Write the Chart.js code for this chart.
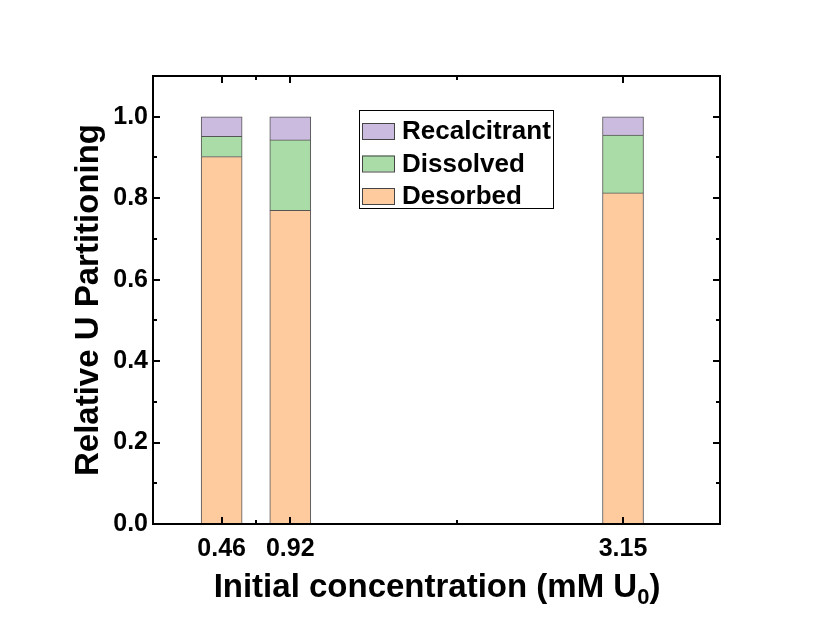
<!DOCTYPE html>
<html>
<head>
<meta charset="utf-8">
<script src="https://cdn.jsdelivr.net/npm/chart.js@4.4.0/dist/chart.umd.min.js"></script>
<style>
  html, body { margin: 0; padding: 0; background: #fff; }
  #wrap { width: 827px; height: 623px; }
</style>
</head>
<body>
<div id="wrap"><canvas id="partitionChart" width="827" height="623"></canvas></div>
<script>
// ## DATA ##
const concentrations = [0.46, 0.92, 3.15];
const desorbed = [0.902, 0.77, 0.813];
const dissolved = [0.05, 0.173, 0.142];
const recalcitrant = [0.048, 0.057, 0.045];
const xTicks = [0.46, 0.92, 3.15];
const yTicks = [0, 0.2, 0.4, 0.6, 0.8, 1.0];

const FONT = "'Liberation Sans', Arial, sans-serif";

function toPoints(values) {
  return values.map((v, i) => ({ x: concentrations[i], y: v }));
}

// frame, inward ticks, legend and axis titles
const decorPlugin = {
  id: "decor",
  afterDraw(chart) {
    const ctx = chart.ctx;
    const area = chart.chartArea;
    const xs = chart.scales.x;
    const ys = chart.scales.y;
    ctx.save();
    ctx.strokeStyle = "#000";
    ctx.lineWidth = 2;
    ctx.strokeRect(area.left, area.top, area.right - area.left, area.bottom - area.top);

    // x ticks (major + midpoints)
    const xMinor = [];
    for (let i = 0; i < xTicks.length - 1; i++) xMinor.push((xTicks[i] + xTicks[i + 1]) / 2);
    ctx.beginPath();
    xTicks.forEach((v) => {
      const px = Math.round(xs.getPixelForValue(v));
      ctx.moveTo(px, area.bottom); ctx.lineTo(px, area.bottom - 7);
      ctx.moveTo(px, area.top); ctx.lineTo(px, area.top + 7);
    });
    xMinor.forEach((v) => {
      const px = Math.round(xs.getPixelForValue(v));
      ctx.moveTo(px, area.bottom); ctx.lineTo(px, area.bottom - 4);
      ctx.moveTo(px, area.top); ctx.lineTo(px, area.top + 4);
    });
    // y ticks
    for (let k = 0; k <= 11; k++) {
      const v = k / 10;
      const py = Math.round(ys.getPixelForValue(v));
      const len = k % 2 === 0 ? 7 : 4;
      ctx.moveTo(area.left, py); ctx.lineTo(area.left + len, py);
      ctx.moveTo(area.right, py); ctx.lineTo(area.right - len, py);
    }
    ctx.stroke();

    // legend
    ctx.lineWidth = 1;
    ctx.strokeStyle = "#000";
    ctx.fillStyle = "#fff";
    ctx.fillRect(359.5, 110.5, 194, 98);
    ctx.strokeRect(359.5, 110.5, 194, 98);
    const order = [2, 1, 0];
    ctx.font = "bold 26px " + FONT;
    ctx.textBaseline = "middle";
    ctx.textAlign = "left";
    order.forEach((di, row) => {
      const ds = chart.data.datasets[di];
      const y = 123 + row * 32.5;
      ctx.fillStyle = ds.backgroundColor;
      ctx.fillRect(362, y, 32, 16);
      ctx.strokeStyle = "#444";
      ctx.strokeRect(362.5, y + 0.5, 32, 16);
      ctx.fillStyle = "#000";
      ctx.fillText(ds.label, 402, y + 9);
    });

    // y title
    ctx.save();
    ctx.translate(98, 300);
    ctx.rotate(-Math.PI / 2);
    ctx.font = "bold 33px " + FONT;
    ctx.textAlign = "center";
    ctx.textBaseline = "alphabetic";
    ctx.fillText("Relative U Partitioning", 0, 0);
    ctx.restore();

    // x title with subscript
    ctx.font = "bold 33px " + FONT;
    ctx.textBaseline = "alphabetic";
    const main = "Initial concentration (mM U";
    const sub = "0";
    const close = ")";
    const wMain = ctx.measureText(main).width;
    const wClose = ctx.measureText(close).width;
    ctx.font = "bold 22px " + FONT;
    const wSub = ctx.measureText(sub).width;
    const startX = 437 - (wMain + wSub + wClose) / 2;
    ctx.font = "bold 33px " + FONT;
    ctx.fillText(main, startX, 597);
    ctx.font = "bold 22px " + FONT;
    ctx.fillText(sub, startX + wMain, 604);
    ctx.font = "bold 33px " + FONT;
    ctx.fillText(close, startX + wMain + wSub, 597);
    ctx.restore();
  },
};

const ctx = document.getElementById("partitionChart").getContext("2d");
window.partitionChart = new Chart(ctx, {
  type: "bar",
  data: {
    datasets: [
      {
        label: "Desorbed",
        data: toPoints(desorbed),
        backgroundColor: "#fecb9f",
        borderColor: "#555",
        borderWidth: 1,
        barThickness: 41,
      },
      {
        label: "Dissolved",
        data: toPoints(dissolved),
        backgroundColor: "#a9dca6",
        borderColor: "#555",
        borderWidth: 1,
        barThickness: 41,
      },
      {
        label: "Recalcitrant",
        data: toPoints(recalcitrant),
        backgroundColor: "#cbbbdf",
        borderColor: "#555",
        borderWidth: 1,
        barThickness: 41,
      },
    ],
  },
  options: {
    responsive: false,
    animation: false,
    layout: {
      padding: { left: 0, top: 76, right: 107, bottom: 0 },
    },
    plugins: {
      legend: { display: false },
      tooltip: { enabled: false },
    },
    scales: {
      x: {
        type: "linear",
        stacked: true,
        offset: false,
        min: 0,
        max: 3.8,
        afterBuildTicks: (scale) => {
          scale.ticks = xTicks.map((v) => ({ value: v }));
        },
        afterFit: (scale) => {
          scale.height = 99;
        },
        ticks: {
          color: "#000",
          padding: 10,
          maxRotation: 0,
          autoSkip: false,
          font: { family: FONT, size: 25, weight: "bold" },
          callback: (v) => v.toFixed(2),
        },
        grid: { display: false, drawTicks: false, offset: false },
        border: { display: false },
      },
      y: {
        stacked: true,
        min: 0,
        max: 1.1,
        afterBuildTicks: (scale) => {
          scale.ticks = yTicks.map((v) => ({ value: v }));
        },
        afterFit: (scale) => {
          scale.width = 153;
        },
        ticks: {
          color: "#000",
          padding: 5,
          font: { family: FONT, size: 25, weight: "bold" },
          callback: (v) => v.toFixed(1),
        },
        grid: { display: false, drawTicks: false },
        border: { display: false },
      },
    },
  },
  plugins: [decorPlugin],
});
</script>
</body>
</html>
